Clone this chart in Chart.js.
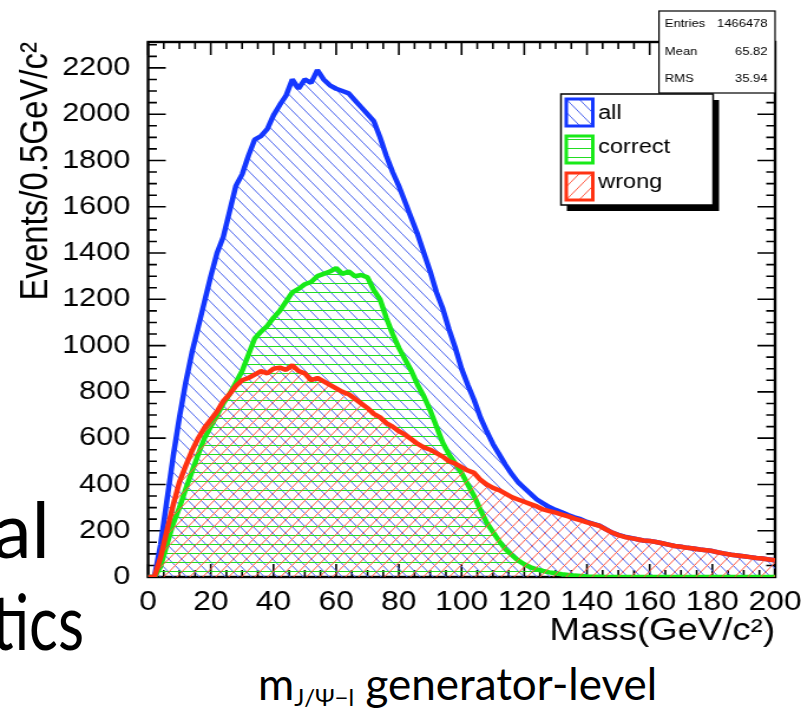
<!DOCTYPE html>
<html>
<head>
<meta charset="utf-8">
<script src="https://cdn.jsdelivr.net/npm/chart.js@4.4.1/dist/chart.umd.min.js"></script>
<style>
  body { margin: 0; width: 801px; height: 711px; overflow: hidden; position: relative; background: #fff; }
  #wrap { position: absolute; left: 0; top: 0; width: 679px; height: 711px; transform: scaleX(1.1797); transform-origin: 0 0; }
  #slide { position: absolute; left: 0; top: 0; }
</style>
</head>
<body>
<svg id="slide" width="801" height="711" font-family="Lato, 'Open Sans', sans-serif" fill="#000">
  <text x="50" y="558" text-anchor="end" font-size="78">al</text>
  <text x="-8" y="650" font-size="78" textLength="92" lengthAdjust="spacingAndGlyphs">tics</text>
  <text x="258" y="700" font-size="44">m<tspan font-size="24" dy="6">J/Ψ−l</tspan><tspan font-size="44" dy="-6"> generator-level</tspan></text>
</svg>
<div id="wrap"><canvas id="histo" width="679" height="711"></canvas></div>
<script>
// bin positions (GeV/c2)
var mass = [0, 2, 4, 6, 8, 10, 12, 14, 16, 18, 20, 22, 24, 26, 28, 30, 32, 34, 36, 38,
  40, 42, 44, 46, 48, 50, 52, 54, 56, 58, 60, 62, 64, 66, 68, 70, 72, 74, 76, 78,
  80, 82, 84, 86, 88, 90, 92, 94, 96, 98, 100, 102, 104, 106, 108, 110, 112, 114, 116, 118,
  120, 122, 124, 126, 128, 130, 132, 134, 136, 138, 140, 142, 144, 146, 148, 150, 152, 154, 156, 158,
  160, 162, 164, 166, 168, 170, 172, 174, 176, 178, 180, 182, 184, 186, 188, 190, 192, 194, 196, 198, 200];

var allEvents = [0, 0, 140, 330, 520, 690, 840, 970, 1080, 1190, 1300, 1400, 1470, 1580, 1690, 1740, 1820, 1890, 1905, 1935,
  1995, 2040, 2080, 2150, 2110, 2150, 2135, 2190, 2150, 2125, 2110, 2100, 2090, 2060, 2030, 2000, 1970, 1900, 1820, 1750,
  1690, 1620, 1550, 1480, 1400, 1320, 1230, 1160, 1070, 990, 900, 830, 765, 690, 630, 575, 530, 485, 445, 410,
  385, 360, 335, 318, 302, 290, 280, 268, 258, 250, 238, 230, 222, 207, 192, 182, 174, 169, 163, 158,
  156, 151, 146, 140, 134, 131, 126, 123, 119, 116, 112, 106, 101, 96, 93, 90, 86, 82, 80, 76, 72];

var correctEvents = [0, 0, 45, 140, 230, 300, 380, 455, 530, 600, 650, 700, 750, 790, 840, 890, 960, 1030, 1060, 1085,
  1120, 1150, 1190, 1230, 1245, 1265, 1275, 1300, 1310, 1320, 1335, 1310, 1320, 1300, 1305, 1295, 1240, 1200, 1120, 1050,
  990, 940, 890, 830, 780, 720, 650, 580, 530, 490, 450, 400, 350, 290, 235, 195, 155, 120, 95, 72,
  55, 42, 33, 26, 20, 16, 12, 9, 6, 4, 2, 1, 1, 0, 0, 0, 0, 0, 0, 0,
  0, 0, 0, 0, 0, 0, 0, 0, 0, 0, 0, 0, 0, 0, 0, 0, 0, 0, 0, 0, 0];

var wrongEvents = [0, 0, 85, 200, 310, 410, 480, 545, 600, 645, 680, 715, 760, 790, 825, 850, 860, 875, 890, 880,
  900, 905, 895, 915, 890, 880, 850, 860, 845, 830, 815, 800, 790, 770, 750, 730, 705, 690, 665, 650,
  630, 615, 595, 575, 560, 550, 535, 520, 500, 490, 475, 460, 450, 420, 400, 385, 375, 360, 345, 335,
  325, 315, 305, 292, 285, 278, 270, 262, 252, 245, 236, 229, 221, 206, 192, 181, 173, 168, 163, 158,
  156, 151, 146, 140, 134, 131, 126, 123, 119, 116, 112, 106, 101, 96, 93, 90, 86, 82, 80, 76, 72];

var legendLabels = ['all', 'correct', 'wrong'];
var statNames = ['Entries', 'Mean', 'RMS'];
var statValues = ['1466478', '65.82', '35.94'];

var lineColors = ['#1437ff', '#18ea18', '#ff3212'];
var hatchColors = ['#4d66ee', '#22dd22', '#ff5a44'];

Chart.defaults.font.family = '"Liberation Sans", Arial, sans-serif';
Chart.defaults.color = '#000';

// ROOT style hatch fills (tile is narrower because the page is stretched sideways)
function hatch(kind, color) {
  var c = document.createElement('canvas');
  var w = 11, h = kind === 'flat' ? 9 : 13;
  c.width = w; c.height = h;
  var g = c.getContext('2d');
  g.strokeStyle = color;
  g.lineWidth = 1;
  g.beginPath();
  if (kind === 'flat') {
    g.moveTo(0, 4.5); g.lineTo(w, 4.5);
  } else {
    for (var k = -1; k <= 2; k++) {
      if (kind === 'back') { g.moveTo(0, k * h); g.lineTo(w, k * h + h); }
      else { g.moveTo(0, k * h); g.lineTo(w, k * h - h); }
    }
  }
  g.stroke();
  return g.createPattern(c, 'repeat');
}
var fills = [hatch('back', hatchColors[0]), hatch('flat', hatchColors[1]), hatch('fwd', hatchColors[2])];

function pts(arr) {
  return mass.map(function (m, i) { return { x: m, y: arr[i] }; });
}

var frame = {
  id: 'frame',
  beforeDatasetsDraw: function (chart) {
    var ctx = chart.ctx, a = chart.chartArea, xs = chart.scales.x, ys = chart.scales.y;
    ctx.save();
    ctx.strokeStyle = '#000';
    ctx.lineWidth = 1.6;
    ctx.beginPath();
    for (var v = 0; v <= 200; v += 5) {
      var px = xs.getPixelForValue(v);
      var len = v % 20 === 0 ? 13 : 7;
      ctx.moveTo(px, a.bottom); ctx.lineTo(px, a.bottom - len);
      ctx.moveTo(px, a.top); ctx.lineTo(px, a.top + len);
    }
    for (var w = 0; w <= 2300; w += 50) {
      var py = ys.getPixelForValue(w);
      var l2 = w % 200 === 0 ? 15 : 7.5;
      ctx.moveTo(a.left, py); ctx.lineTo(a.left + l2, py);
      ctx.moveTo(a.right, py); ctx.lineTo(a.right - l2, py);
    }
    ctx.stroke();
    ctx.lineWidth = 2.4;
    ctx.strokeRect(a.left, a.top, a.right - a.left, a.bottom - a.top);
    ctx.restore();
  }
};

var boxes = {
  id: 'boxes',
  afterDraw: function (chart) {
    var ctx = chart.ctx;
    ctx.save();
    // stats box
    ctx.fillStyle = '#fff';
    ctx.fillRect(558.6, 11, 98.4, 82);
    ctx.strokeStyle = '#000';
    ctx.lineWidth = 1.2;
    ctx.strokeRect(558.6, 11, 98.4, 82);
    ctx.fillStyle = '#000';
    ctx.font = '11px "Liberation Sans", Arial, sans-serif';
    ctx.textBaseline = 'middle';
    var rows = [24, 51.5, 79];
    for (var i = 0; i < statNames.length; i++) {
      ctx.textAlign = 'left';
      ctx.fillText(statNames[i], 563.6, rows[i]);
      ctx.textAlign = 'right';
      ctx.fillText(statValues[i], 650.6, rows[i]);
    }
    // legend with shadow
    ctx.fillStyle = '#000';
    ctx.fillRect(480.5, 100, 129, 111);
    ctx.fillStyle = '#fff';
    ctx.fillRect(475.5, 94, 129, 111);
    ctx.lineWidth = 1.5;
    ctx.strokeRect(475.5, 94, 129, 111);
    var tops = [99, 136, 173];
    var mids = [113, 147, 182];
    ctx.font = '20px "Liberation Sans", Arial, sans-serif';
    for (var j = 0; j < legendLabels.length; j++) {
      ctx.fillStyle = fills[j];
      ctx.fillRect(480, tops[j], 22.5, 27);
      ctx.strokeStyle = lineColors[j];
      ctx.lineWidth = 3;
      ctx.strokeRect(480, tops[j], 22.5, 27);
      ctx.fillStyle = '#000';
      ctx.textAlign = 'left';
      ctx.fillText(legendLabels[j], 507, mids[j]);
    }
    ctx.restore();
  }
};

var series = [allEvents, correctEvents, wrongEvents];
var datasets = series.map(function (arr, i) {
  return {
    label: legendLabels[i],
    data: pts(arr),
    borderColor: lineColors[i],
    backgroundColor: fills[i],
    borderWidth: 4.5,
    borderJoinStyle: 'bevel',
    pointRadius: 0,
    tension: 0,
    fill: 'origin',
    order: 2 - i
  };
});

function plain(v) { return String(v); }

new Chart(document.getElementById('histo'), {
  type: 'line',
  data: { datasets: datasets },
  options: {
    responsive: false,
    animation: false,
    layout: { padding: { top: 42, right: 22, left: 0, bottom: 0 } },
    plugins: { legend: { display: false }, tooltip: { enabled: false } },
    scales: {
      x: {
        type: 'linear',
        min: 0,
        max: 200,
        grid: { display: false },
        border: { display: false },
        ticks: { stepSize: 20, autoSkip: false, maxRotation: 0, padding: 1, font: { size: 27 }, callback: plain },
        title: { display: true, text: 'Mass(GeV/c²)', align: 'end', font: { size: 31 }, padding: { top: 0, bottom: 61 } },
        afterFit: function (s) { s.height = 134; s.paddingLeft = 0; s.paddingRight = 0; }
      },
      y: {
        min: 0,
        max: 2312,
        grid: { display: false },
        border: { display: false },
        ticks: { stepSize: 200, autoSkip: false, includeBounds: false, padding: 7, font: { size: 26 }, callback: plain },
        title: { display: true, text: 'Events/0.5GeV/c²', align: 'end', font: { size: 33 }, padding: { top: 11, bottom: 0 } },
        afterFit: function (s) { s.width = 125.5; s.paddingTop = 0; s.paddingBottom = 0; }
      }
    }
  },
  plugins: [frame, boxes]
});
</script>
</body>
</html>
